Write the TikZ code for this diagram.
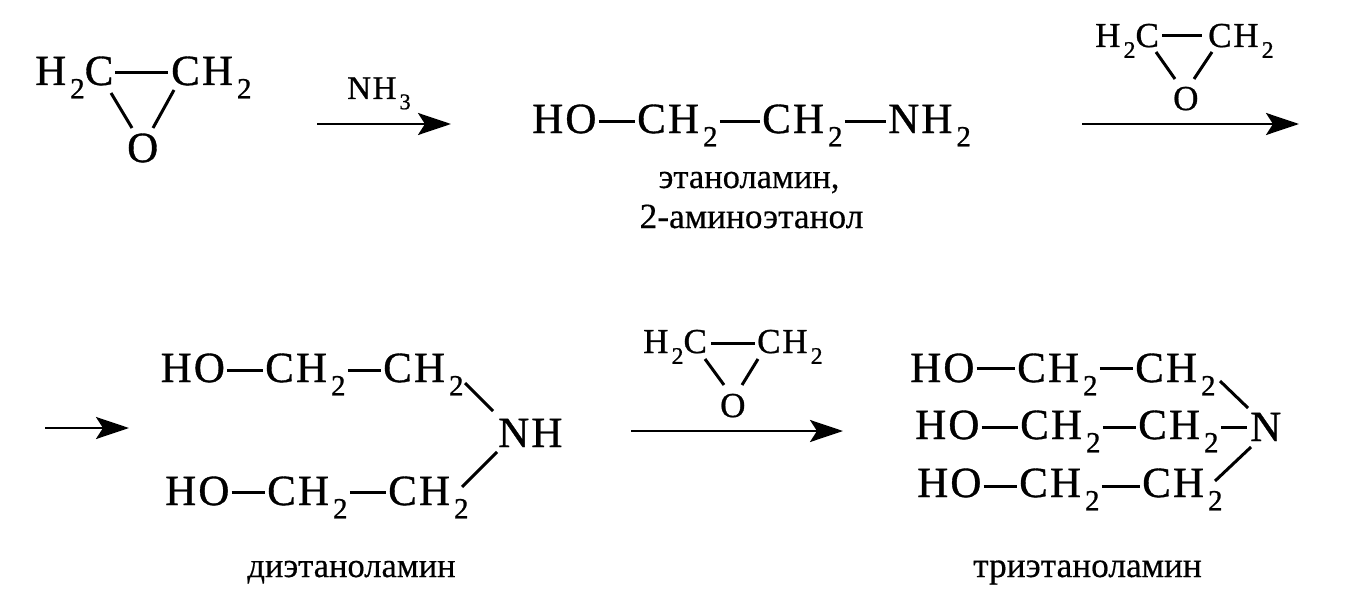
\documentclass[tikz,border=0pt]{standalone}
\usepackage{fontspec}
\usepackage{graphicx}
\setmainfont{Liberation Serif}
\newfontfamily\chemfont[LetterSpace=5,FakeBold=0.8]{Liberation Serif}
\newfontfamily\labelfont[FakeBold=0.4]{Liberation Serif}
\usetikzlibrary{arrows.meta}
\newcommand\subs[1]{\kern.09em\raisebox{-.31em}{\scalebox{.68}{#1}}}
\newcommand\hb[3]{\draw[bond] ([shift={(2,-#3)}]#1.base east) -- ([shift={(-2,-#3)}]#2.base west);}
\tikzset{
  big/.style={anchor=base west,inner sep=0pt,font=\chemfont\fontsize{43}{43}\selectfont},
  mid/.style={anchor=base west,inner sep=0pt,font=\chemfont\fontsize{35}{35}\selectfont},
  small/.style={anchor=base west,inner sep=0pt,font=\chemfont\fontsize{33}{33}\selectfont},
  label text/.style={anchor=base,inner sep=0pt,font=\labelfont\fontsize{34.5}{34.5}\selectfont},
  label wide/.style={anchor=base,inner sep=0pt,font=\labelfont\fontsize{35.3}{35.3}\selectfont},
  bond/.style={line width=3pt,black},
  rarrow/.style={line width=2.7pt,black,-{Stealth[length=33pt,width=22pt,inset=7pt]}},
}
\begin{document}
\begin{tikzpicture}[x=1pt,y=-1pt]
\useasboundingbox[fill=white] (0,0) rectangle (1356,607);
% ring 1
\node[big] (a1) at (35,85) {H\subs{2}C};
\node[big] (a2) at (171,85) {CH\subs{2}};
\node[big] (a3) at (127,162) {O};
\draw[bond] ([shift={(80,-12)}]a1.base west) -- ([shift={(-3,-12)}]a2.base west);
\draw[bond] ([shift={(76,8)}]a1.base west) -- ([shift={(5,-34)}]a3.base west);
\draw[bond] ([shift={(3,5)}]a2.base west) -- ([shift={(26,-34)}]a3.base west);
% arrow 1
\node[small] (nh3) at (347,99) {NH\subs{3}};
\coordinate (ar1s) at (317,124); \coordinate (ar1e) at (451,124);
\draw[rarrow] (ar1s) -- (ar1e);
% ethanolamine
\node[big] (b1) at (532,133) {HO};
\node[big] (b2) at (637,133) {CH\subs{2}};
\node[big] (b3) at (762,133) {CH\subs{2}};
\node[big] (b4) at (888,133) {NH\subs{2}};
\hb{b1}{b2}{11}\hb{b2}{b3}{11}\hb{b3}{b4}{11}
\node[label text] (l1) at (749,188) {этаноламин,};
\node[label wide] (l2) at (751.5,228) {2-аминоэтанол};
% ring 2
\node[mid] (r1) at (1095,47) {H\subs{2}C};
\node[mid] (r2) at (1208,47) {CH\subs{2}};
\node[mid] (r3) at (1173,110) {O};
\draw[bond] ([shift={(67,-11)}]r1.base west) -- ([shift={(-6,-11)}]r2.base west);
\draw[bond] ([shift={(61,5)}]r1.base west) -- ([shift={(2,-31)}]r3.base west);
\draw[bond] ([shift={(4,5)}]r2.base west) -- ([shift={(21,-31)}]r3.base west);
\coordinate (ar2s) at (1082,124); \coordinate (ar2e) at (1299,124);
\draw[rarrow] (ar2s) -- (ar2e);
% arrow 3
\coordinate (ar3s) at (45,428); \coordinate (ar3e) at (129,428);
\draw[rarrow] (ar3s) -- (ar3e);
% diethanolamine
\node[big] (d1) at (160.5,382) {HO};
\node[big] (d2) at (265,382) {CH\subs{2}};
\node[big] (d3) at (383,382) {CH\subs{2}};
\node[big] (d4) at (498,447) {NH};
\node[big] (d5) at (165,505) {HO};
\node[big] (d6) at (267,505) {CH\subs{2}};
\node[big] (d7) at (388,505) {CH\subs{2}};
\hb{d1}{d2}{12}\hb{d2}{d3}{12}\hb{d5}{d6}{13}\hb{d6}{d7}{13}
\draw[bond] ([shift={(82,1)}]d3.base west) -- ([shift={(-5,-36)}]d4.base west);
\draw[bond] ([shift={(-1,5)}]d4.base west) -- ([shift={(74,-18)}]d7.base west);
\node[label text] (l3) at (351.5,577) {диэтаноламин};
% ring 3
\node[mid] (s1) at (643,353) {H\subs{2}C};
\node[mid] (s2) at (757,353) {CH\subs{2}};
\node[mid] (s3) at (720,417) {O};
\draw[bond] ([shift={(68,-10)}]s1.base west) -- ([shift={(-2,-10)}]s2.base west);
\draw[bond] ([shift={(62,6)}]s1.base west) -- ([shift={(4,-32)}]s3.base west);
\draw[bond] ([shift={(1,6)}]s2.base west) -- ([shift={(22,-32)}]s3.base west);
\coordinate (ar4s) at (631,431); \coordinate (ar4e) at (843,431);
\draw[rarrow] (ar4s) -- (ar4e);
% triethanolamine
\node[big] (t1) at (910,382) {HO};
\node[big] (t2) at (1017,382) {CH\subs{2}};
\node[big] (t3) at (1135,382) {CH\subs{2}};
\node[big] (t4) at (915,439) {HO};
\node[big] (t5) at (1020,439) {CH\subs{2}};
\node[big] (t6) at (1138,439) {CH\subs{2}};
\node[big] (tn) at (1250,441) {N};
\node[big] (t7) at (917,497) {HO};
\node[big] (t8) at (1019,497) {CH\subs{2}};
\node[big] (t9) at (1142,497) {CH\subs{2}};
\hb{t1}{t2}{14}\hb{t2}{t3}{14}\hb{t4}{t5}{12}\hb{t5}{t6}{12}\hb{t7}{t8}{11}\hb{t8}{t9}{11}
\draw[bond] ([shift={(2,-12)}]t6.base east) -- ([shift={(-3,-14)}]tn.base west);
\draw[bond] ([shift={(85,-1)}]t3.base west) -- ([shift={(-2,-33)}]tn.base west);
\draw[bond] ([shift={(1,6)}]tn.base west) -- ([shift={(73,-16)}]t9.base west);
\node[label wide] (l4) at (1087.5,577) {триэтаноламин};
\end{tikzpicture}
\end{document}
